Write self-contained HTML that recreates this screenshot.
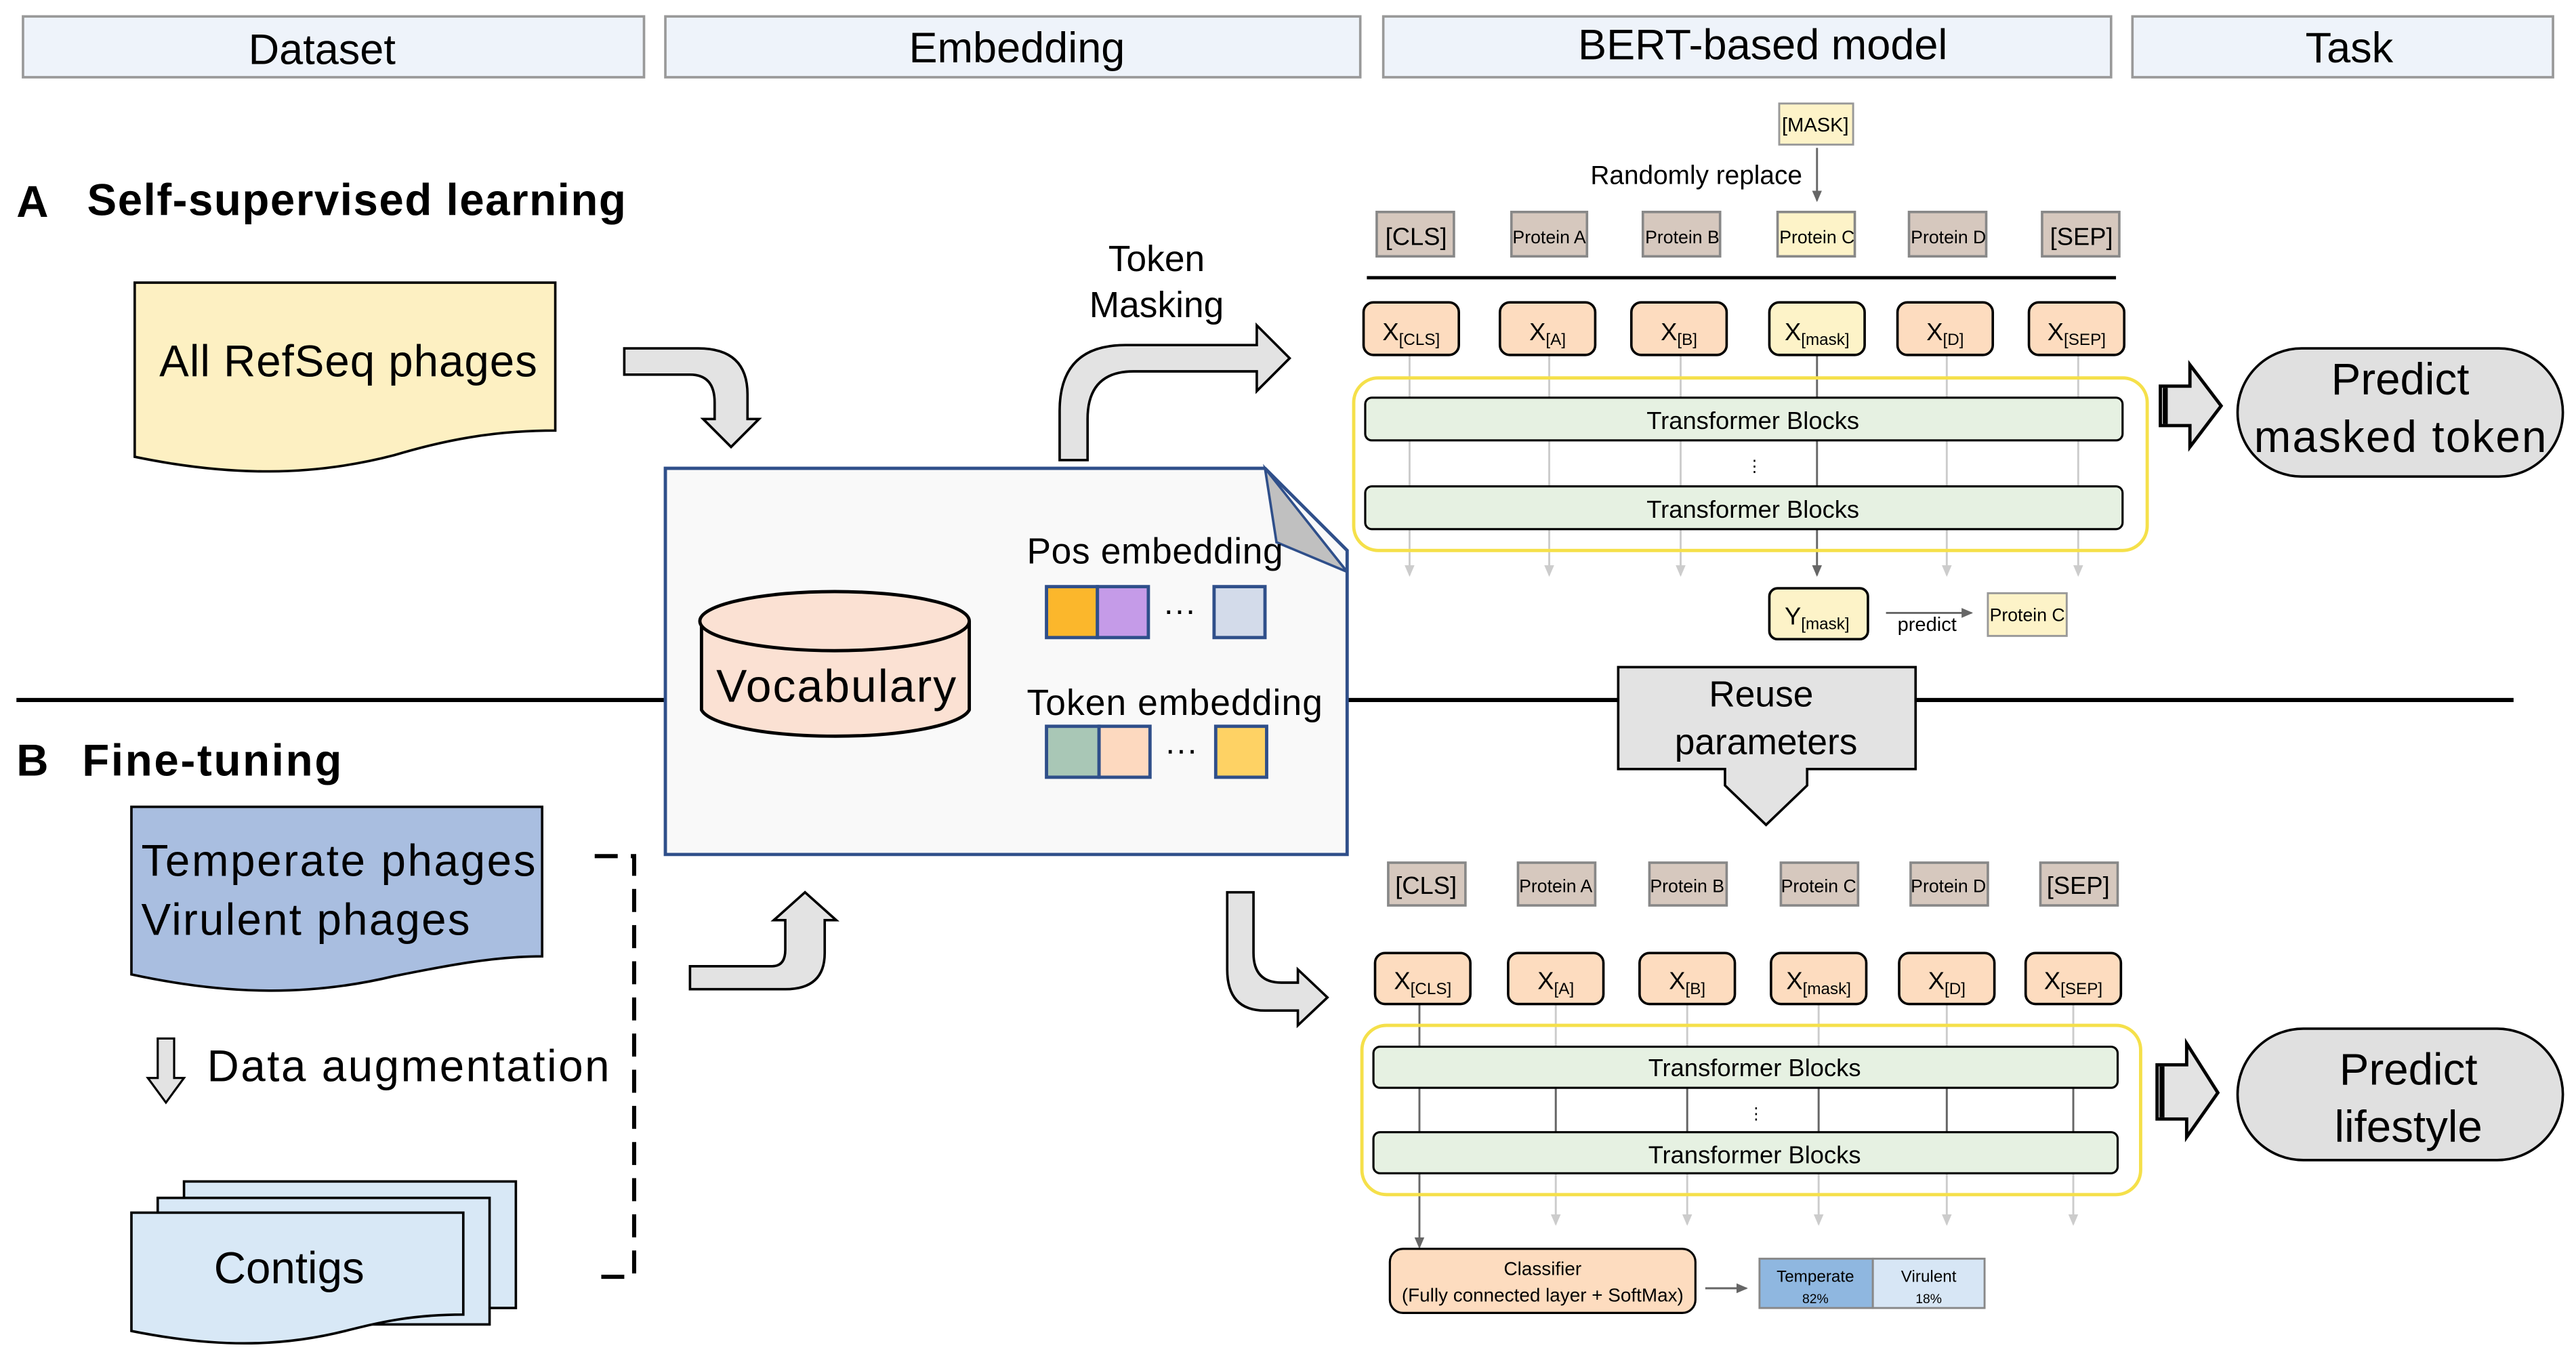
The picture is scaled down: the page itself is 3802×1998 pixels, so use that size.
<!DOCTYPE html>
<html><head><meta charset="utf-8"><style>
html,body{margin:0;padding:0;background:#fff;}
svg{display:block;}
text{font-family:"Liberation Sans",sans-serif;fill:#000;}
</style></head><body>
<svg width="3802" height="1998" viewBox="0 0 1568 824" preserveAspectRatio="none" xmlns="http://www.w3.org/2000/svg">
<defs>
<marker id="ag" markerWidth="8" markerHeight="8" refX="6" refY="4" orient="auto" markerUnits="userSpaceOnUse"><path d="M0,1 L7,4 L0,7 Z" fill="#ccc"/></marker>
<marker id="ad" markerWidth="8" markerHeight="8" refX="6" refY="4" orient="auto" markerUnits="userSpaceOnUse"><path d="M0,1 L7,4 L0,7 Z" fill="#666"/></marker>
</defs>
<!-- headers -->
<g fill="#eef3fa" stroke="#999" stroke-width="1.5">
<rect x="14" y="10" width="378" height="37"/>
<rect x="405" y="10" width="423" height="37"/>
<rect x="842" y="10" width="443" height="37"/>
<rect x="1298" y="10" width="256" height="37"/>
</g>
<g font-size="26" text-anchor="middle">
<text x="196" y="39">Dataset</text>
<text x="619" y="38">Embedding</text>
<text x="1073" y="36">BERT-based model</text>
<text x="1430" y="38">Task</text>
</g>
<text x="10" y="132" font-size="27" font-weight="bold">A</text>
<text x="53" y="131" font-size="27" font-weight="bold" textLength="328">Self-supervised learning</text>
<text x="10" y="472" font-size="27" font-weight="bold">B</text>
<text x="50" y="472" font-size="27" font-weight="bold" textLength="158">Fine-tuning</text>
<line x1="10" y1="426" x2="405" y2="426" stroke="#000" stroke-width="2.5"/>
<line x1="820" y1="426" x2="1530" y2="426" stroke="#000" stroke-width="2.5"/>

<!-- All RefSeq doc -->
<path d="M82,172 H338 V262 C300,262 270,268 240,277 C190,290 140,290 82,278 Z" fill="#fdf0c2" stroke="#000" stroke-width="1.5"/>
<text x="212" y="229" font-size="27" text-anchor="middle" textLength="230">All RefSeq phages</text>
<!-- bent arrow down -->
<path d="M380,212 H425 Q455,212 455,240 V255 H462 L445,272 L428,255 H435 V245 Q435,228 420,228 H380 Z" fill="#e3e3e3" stroke="#000" stroke-width="1.5"/>

<!-- Embedding doc -->
<path d="M405,285 H770 L820,335 V520 H405 Z" fill="#f9f9f9" stroke="#2f4f8a" stroke-width="2"/>
<path d="M770,285 L777,330 L820,348 Z" fill="#c0c0c0" stroke="#2f4f8a" stroke-width="1.5"/>
<path d="M427,378 V432 A82,18 0 0 0 590,432 V378" fill="#fbe1d3" stroke="#000" stroke-width="2"/>
<ellipse cx="508" cy="378" rx="82" ry="18" fill="#fbe1d3" stroke="#000" stroke-width="2"/>
<text x="509" y="427" font-size="28" text-anchor="middle" textLength="146">Vocabulary</text>
<text x="703" y="343" font-size="22" text-anchor="middle" textLength="156">Pos embedding</text>
<g stroke="#2f4f8a" stroke-width="2">
<rect x="637" y="357" width="31" height="31" fill="#fbb72c"/>
<rect x="668" y="357" width="31" height="31" fill="#c59be8"/>
<rect x="739" y="357" width="31" height="31" fill="#d3dbea"/>
<rect x="637" y="442" width="32" height="31" fill="#a9c7b6"/>
<rect x="669" y="442" width="31" height="31" fill="#fdd9bf"/>
<rect x="740" y="442" width="31" height="31" fill="#fed264"/>
</g>
<text x="718" y="378" font-size="20" text-anchor="middle">···</text>
<text x="719" y="463" font-size="20" text-anchor="middle">···</text>
<text x="715" y="435" font-size="22" text-anchor="middle" textLength="180">Token embedding</text>

<!-- Token masking arrow -->
<path d="M645,280 V250 Q645,210 685,210 H765 V198 L785,218 L765,238 V226 H690 Q662,226 662,255 V280 Z" fill="#e3e3e3" stroke="#000" stroke-width="1.5"/>
<text x="704" y="165" font-size="22" text-anchor="middle">Token</text>
<text x="704" y="193" font-size="22" text-anchor="middle">Masking</text>

<!-- top BERT -->
<rect x="1083" y="63" width="45" height="25" fill="#fdf3c8" stroke="#999" stroke-width="1.2"/>
<text x="1105" y="80" font-size="12" text-anchor="middle">[MASK]</text>
<text x="1097" y="112" font-size="16" text-anchor="end">Randomly replace</text>
<line x1="1106" y1="90" x2="1106" y2="122" stroke="#666" stroke-width="1.2" marker-end="url(#ad)"/>
<g stroke="#888" stroke-width="1.5">
<rect x="838" y="129" width="47" height="27" fill="#d6c8be"/>
<rect x="920" y="129" width="46" height="27" fill="#d6c8be"/>
<rect x="1000" y="129" width="47" height="27" fill="#d6c8be"/>
<rect x="1082" y="129" width="47" height="27" fill="#fdf3c8"/>
<rect x="1162" y="129" width="47" height="27" fill="#d6c8be"/>
<rect x="1243" y="129" width="47" height="27" fill="#d6c8be"/>
</g>
<g font-size="11" text-anchor="middle">
<text x="862" y="149" font-size="15">[CLS]</text>
<text x="943" y="148">Protein A</text>
<text x="1024" y="148">Protein B</text>
<text x="1106" y="148">Protein C</text>
<text x="1186" y="148">Protein D</text>
<text x="1267" y="149" font-size="15">[SEP]</text>
</g>
<line x1="832" y1="169" x2="1288" y2="169" stroke="#000" stroke-width="2"/>
<!-- verticals top -->
<g stroke="#ccc" stroke-width="1.2">
<line x1="858" y1="216" x2="858" y2="350" marker-end="url(#ag)"/>
<line x1="943" y1="216" x2="943" y2="350" marker-end="url(#ag)"/>
<line x1="1023" y1="216" x2="1023" y2="350" marker-end="url(#ag)"/>
<line x1="1185" y1="216" x2="1185" y2="350" marker-end="url(#ag)"/>
<line x1="1265" y1="216" x2="1265" y2="350" marker-end="url(#ag)"/>
</g>
<line x1="1106" y1="216" x2="1106" y2="350" stroke="#666" stroke-width="1.2" marker-end="url(#ad)"/>
<g stroke="#000" stroke-width="1.5">
<rect x="830" y="184" width="58" height="32" rx="6" fill="#fddcbf"/>
<rect x="913" y="184" width="58" height="32" rx="6" fill="#fddcbf"/>
<rect x="993" y="184" width="58" height="32" rx="6" fill="#fddcbf"/>
<rect x="1077" y="184" width="58" height="32" rx="6" fill="#fdf3c8"/>
<rect x="1155" y="184" width="58" height="32" rx="6" fill="#fddcbf"/>
<rect x="1235" y="184" width="58" height="32" rx="6" fill="#fddcbf"/>
</g>
<g font-size="15" text-anchor="middle">
<text x="859" y="207">X<tspan font-size="10" dy="3">[CLS]</tspan></text>
<text x="942" y="207">X<tspan font-size="10" dy="3">[A]</tspan></text>
<text x="1022" y="207">X<tspan font-size="10" dy="3">[B]</tspan></text>
<text x="1106" y="207">X<tspan font-size="10" dy="3">[mask]</tspan></text>
<text x="1184" y="207">X<tspan font-size="10" dy="3">[D]</tspan></text>
<text x="1264" y="207">X<tspan font-size="10" dy="3">[SEP]</tspan></text>
</g>
<rect x="824" y="230" width="483" height="105" rx="15" fill="none" stroke="#f5e04a" stroke-width="2"/>
<rect x="831" y="242" width="461" height="26" rx="4" fill="#e6f1e2" stroke="#000" stroke-width="1.3"/>
<rect x="831" y="296" width="461" height="26" rx="4" fill="#e6f1e2" stroke="#000" stroke-width="1.3"/>
<text x="1067" y="261" font-size="15" text-anchor="middle">Transformer Blocks</text>
<text x="1067" y="315" font-size="15" text-anchor="middle">Transformer Blocks</text>
<text x="1068" y="287" font-size="10" text-anchor="middle">⋮</text>
<rect x="1077" y="358" width="60" height="31" rx="5" fill="#fdf3c8" stroke="#000" stroke-width="1.5"/>
<text x="1106" y="380" font-size="15" text-anchor="middle">Y<tspan font-size="10" dy="3">[mask]</tspan></text>
<line x1="1148" y1="373" x2="1200" y2="373" stroke="#666" stroke-width="1.2" marker-end="url(#ad)"/>
<text x="1173" y="384" font-size="12" text-anchor="middle">predict</text>
<rect x="1210" y="361" width="48" height="26" fill="#fdf3c8" stroke="#999" stroke-width="1.2"/>
<text x="1234" y="378" font-size="11" text-anchor="middle">Protein C</text>

<!-- right arrow top -->
<path d="M1315,235 H1333 V222 L1352,247 L1333,272 V259 H1315 Z" fill="#e3e3e3" stroke="#000" stroke-width="2"/>
<line x1="1318" y1="236" x2="1318" y2="258" stroke="#000" stroke-width="3"/>
<rect x="1362" y="212" width="198" height="78" rx="39" fill="#e0e0e0" stroke="#000" stroke-width="1.5"/>
<text x="1461" y="240" font-size="27" text-anchor="middle">Predict</text>
<text x="1461" y="275" font-size="27" text-anchor="middle" textLength="178">masked token</text>

<!-- reuse parameters -->
<path d="M985,406 H1166 V468 H1100 V478 L1075,502 L1050,478 V468 H985 Z" fill="#e3e3e3" stroke="#000" stroke-width="1.5"/>
<text x="1072" y="430" font-size="22" text-anchor="middle">Reuse</text>
<text x="1075" y="459" font-size="22" text-anchor="middle">parameters</text>

<!-- fine-tuning data -->
<path d="M80,491 H330 V582 C300,582 270,588 240,594 C190,606 140,606 80,593 Z" fill="#a9bee0" stroke="#000" stroke-width="1.5"/>
<text x="86" y="533" font-size="27" textLength="240">Temperate phages</text>
<text x="86" y="569" font-size="27" textLength="200">Virulent phages</text>
<path d="M96,632 H106 V656 H112 L101,671 L90,656 H96 Z" fill="#e3e3e3" stroke="#000" stroke-width="1.3"/>
<text x="126" y="658" font-size="27" textLength="245">Data augmentation</text>
<rect x="112" y="719" width="202" height="77" fill="#d8e8f6" stroke="#000" stroke-width="1.5"/>
<rect x="96" y="729" width="202" height="77" fill="#d8e8f6" stroke="#000" stroke-width="1.5"/>
<path d="M80,738 H282 V800 C250,800 230,805 210,810 C170,820 130,820 80,810 Z" fill="#d8e8f6" stroke="#000" stroke-width="1.5"/>
<text x="176" y="781" font-size="27" text-anchor="middle">Contigs</text>
<path d="M362,521 H386 V777 H362" fill="none" stroke="#000" stroke-width="2.5" stroke-dasharray="14,8"/>

<!-- arrow into embedding -->
<path d="M420,588 H470 Q478,588 478,578 V560 H471 L490,543 L509,560 H502 V580 Q502,602 478,602 H420 Z" fill="#e3e3e3" stroke="#000" stroke-width="1.5"/>
<!-- arrow out to bottom bert -->
<path d="M747,543 H763 V580 Q763,598 780,598 H790 V590 L808,607 L790,624 V615 H770 Q747,615 747,590 Z" fill="#e3e3e3" stroke="#000" stroke-width="1.5"/>

<!-- bottom BERT -->
<g stroke="#888" stroke-width="1.5">
<rect x="845" y="525" width="47" height="26" fill="#d6c8be"/>
<rect x="924" y="525" width="47" height="26" fill="#d6c8be"/>
<rect x="1004" y="525" width="47" height="26" fill="#d6c8be"/>
<rect x="1084" y="525" width="47" height="26" fill="#d6c8be"/>
<rect x="1163" y="525" width="47" height="26" fill="#d6c8be"/>
<rect x="1242" y="525" width="47" height="26" fill="#d6c8be"/>
</g>
<g font-size="11" text-anchor="middle">
<text x="868" y="544" font-size="15">[CLS]</text>
<text x="947" y="543">Protein A</text>
<text x="1027" y="543">Protein B</text>
<text x="1107" y="543">Protein C</text>
<text x="1186" y="543">Protein D</text>
<text x="1265" y="544" font-size="15">[SEP]</text>
</g>
<g stroke="#ccc" stroke-width="1.2">
<line x1="947" y1="611" x2="947" y2="745" marker-end="url(#ag)"/>
<line x1="1027" y1="611" x2="1027" y2="745" marker-end="url(#ag)"/>
<line x1="1107" y1="611" x2="1107" y2="745" marker-end="url(#ag)"/>
<line x1="1185" y1="611" x2="1185" y2="745" marker-end="url(#ag)"/>
<line x1="1262" y1="611" x2="1262" y2="745" marker-end="url(#ag)"/>
</g>
<line x1="864" y1="611" x2="864" y2="759" stroke="#666" stroke-width="1.2" marker-end="url(#ad)"/>
<g stroke="#000" stroke-width="1.5">
<rect x="837" y="580" width="58" height="31" rx="6" fill="#fddcbf"/>
<rect x="918" y="580" width="58" height="31" rx="6" fill="#fddcbf"/>
<rect x="998" y="580" width="58" height="31" rx="6" fill="#fddcbf"/>
<rect x="1078" y="580" width="58" height="31" rx="6" fill="#fddcbf"/>
<rect x="1156" y="580" width="58" height="31" rx="6" fill="#fddcbf"/>
<rect x="1233" y="580" width="58" height="31" rx="6" fill="#fddcbf"/>
</g>
<g font-size="15" text-anchor="middle">
<text x="866" y="602">X<tspan font-size="10" dy="3">[CLS]</tspan></text>
<text x="947" y="602">X<tspan font-size="10" dy="3">[A]</tspan></text>
<text x="1027" y="602">X<tspan font-size="10" dy="3">[B]</tspan></text>
<text x="1107" y="602">X<tspan font-size="10" dy="3">[mask]</tspan></text>
<text x="1185" y="602">X<tspan font-size="10" dy="3">[D]</tspan></text>
<text x="1262" y="602">X<tspan font-size="10" dy="3">[SEP]</tspan></text>
</g>
<rect x="829" y="624" width="474" height="103" rx="15" fill="none" stroke="#f5e04a" stroke-width="2"/>
<g stroke="#666" stroke-width="1.2">
<line x1="947" y1="662" x2="947" y2="689"/><line x1="1027" y1="662" x2="1027" y2="689"/>
<line x1="1107" y1="662" x2="1107" y2="689"/><line x1="1185" y1="662" x2="1185" y2="689"/>
<line x1="1262" y1="662" x2="1262" y2="689"/>
</g>
<rect x="836" y="637" width="453" height="25" rx="4" fill="#e6f1e2" stroke="#000" stroke-width="1.3"/>
<rect x="836" y="689" width="453" height="25" rx="4" fill="#e6f1e2" stroke="#000" stroke-width="1.3"/>
<text x="1068" y="655" font-size="15" text-anchor="middle">Transformer Blocks</text>
<text x="1068" y="708" font-size="15" text-anchor="middle">Transformer Blocks</text>
<text x="1069" y="681" font-size="10" text-anchor="middle">⋮</text>
<rect x="846" y="760" width="186" height="39" rx="8" fill="#fddcbf" stroke="#000" stroke-width="1.3"/>
<text x="939" y="776" font-size="11.5" text-anchor="middle">Classifier</text>
<text x="939" y="792" font-size="11.5" text-anchor="middle">(Fully connected layer + SoftMax)</text>
<line x1="1038" y1="784" x2="1063" y2="784" stroke="#666" stroke-width="1.2" marker-end="url(#ad)"/>
<rect x="1071" y="766" width="69" height="30" fill="#8fb7e0" stroke="#888" stroke-width="1.2"/>
<rect x="1140" y="766" width="68" height="30" fill="#d7e6f5" stroke="#888" stroke-width="1.2"/>
<text x="1105" y="780" font-size="10" text-anchor="middle">Temperate</text>
<text x="1105" y="793" font-size="8" text-anchor="middle">82%</text>
<text x="1174" y="780" font-size="10" text-anchor="middle">Virulent</text>
<text x="1174" y="793" font-size="8" text-anchor="middle">18%</text>

<path d="M1313,648 H1331 V635 L1350,665 L1331,692 V681 H1313 Z" fill="#e3e3e3" stroke="#000" stroke-width="2"/>
<line x1="1316" y1="649" x2="1316" y2="680" stroke="#000" stroke-width="3"/>
<rect x="1362" y="626" width="198" height="80" rx="40" fill="#e0e0e0" stroke="#000" stroke-width="1.5"/>
<text x="1466" y="660" font-size="27" text-anchor="middle">Predict</text>
<text x="1466" y="695" font-size="27" text-anchor="middle">lifestyle</text>
</svg>
</body></html>
